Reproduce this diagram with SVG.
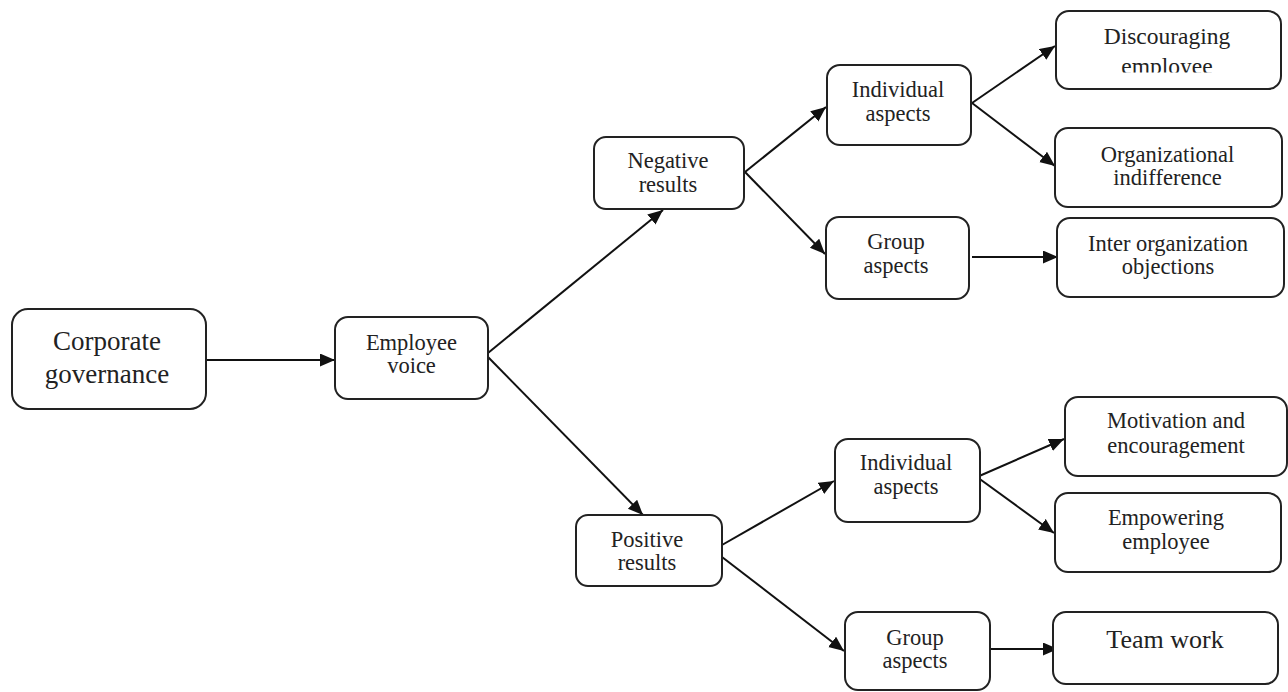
<svg xmlns="http://www.w3.org/2000/svg" width="1288" height="692" viewBox="0 0 1288 692">
<style>
.box{fill:#fff;stroke:#222;stroke-width:2}
.t{font-family:"Liberation Serif","Times New Roman",serif;font-size:22.5px;fill:#222;text-anchor:middle}
.big{font-size:27px}
.tw{font-size:26px}
.c{stroke:#111;stroke-width:2;fill:none;marker-end:url(#ah)}
</style>
<defs>
<marker id="ah" markerUnits="userSpaceOnUse" markerWidth="16" markerHeight="14" refX="15" refY="6.5" orient="auto">
<path d="M0,0 L15,6.5 L0,13 z" fill="#111"/>
</marker>
<clipPath id="clipDisc"><rect x="1056" y="11" width="225" height="61.5"/></clipPath>
</defs>
<g id="connectors">
<line class="c" x1="206" y1="360" x2="335" y2="360"/>
<line class="c" x1="488" y1="353" x2="663" y2="210"/>
<line class="c" x1="488" y1="357" x2="643" y2="515"/>
<line class="c" x1="745" y1="172" x2="826" y2="107"/>
<line class="c" x1="745" y1="172" x2="825" y2="254"/>
<line class="c" x1="972" y1="103" x2="1055" y2="46"/>
<line class="c" x1="972" y1="103" x2="1055" y2="166"/>
<line class="c" x1="972" y1="257" x2="1058" y2="257"/>
<line class="c" x1="722" y1="545" x2="834" y2="481"/>
<line class="c" x1="722" y1="557" x2="844" y2="651"/>
<line class="c" x1="977" y1="477" x2="1064" y2="439"/>
<line class="c" x1="977" y1="477" x2="1054" y2="533"/>
<line class="c" x1="987" y1="649" x2="1058" y2="649"/>
</g>
<g id="corporate-governance">
<rect class="box" x="12" y="309" width="194" height="100" rx="16"/>
<text class="t big" x="107" y="350">Corporate</text>
<text class="t big" x="107" y="383">governance</text>
</g>
<g id="employee-voice">
<rect class="box" x="335" y="317" width="153" height="82" rx="13"/>
<text class="t" x="411.5" y="350">Employee</text>
<text class="t" x="411.5" y="373">voice</text>
</g>
<g id="negative-results">
<rect class="box" x="594" y="137" width="150" height="72" rx="12"/>
<text class="t" x="668" y="168">Negative</text>
<text class="t" x="668" y="192">results</text>
</g>
<g id="individual-aspects-neg">
<rect class="box" x="827" y="65" width="144" height="80" rx="13"/>
<text class="t" x="898" y="97">Individual</text>
<text class="t" x="898" y="121">aspects</text>
</g>
<g id="group-aspects-neg">
<rect class="box" x="826" y="217" width="143" height="82" rx="13"/>
<text class="t" x="896" y="249">Group</text>
<text class="t" x="896" y="273">aspects</text>
</g>
<g id="discouraging-employee">
<rect class="box" x="1056" y="11" width="225" height="78" rx="13"/>
<text class="t" x="1167" y="44" style="font-size:23.5px">Discouraging</text>
<text class="t" x="1167" y="74" style="font-size:23.5px" clip-path="url(#clipDisc)">employee</text>
</g>
<g id="organizational-indifference">
<rect class="box" x="1055" y="128" width="227" height="79" rx="13"/>
<text class="t" x="1167.5" y="162">Organizational</text>
<text class="t" x="1167.5" y="185">indifference</text>
</g>
<g id="inter-organization-objections">
<rect class="box" x="1057" y="218" width="227" height="79" rx="13"/>
<text class="t" x="1168" y="251">Inter organization</text>
<text class="t" x="1168" y="274">objections</text>
</g>
<g id="positive-results">
<rect class="box" x="576" y="515" width="146" height="71" rx="12"/>
<text class="t" x="647" y="547">Positive</text>
<text class="t" x="647" y="570">results</text>
</g>
<g id="individual-aspects-pos">
<rect class="box" x="835" y="439" width="145" height="83" rx="13"/>
<text class="t" x="906" y="470">Individual</text>
<text class="t" x="906" y="494">aspects</text>
</g>
<g id="group-aspects-pos">
<rect class="box" x="845" y="612" width="145" height="78" rx="13"/>
<text class="t" x="915" y="645">Group</text>
<text class="t" x="915" y="668">aspects</text>
</g>
<g id="motivation-encouragement">
<rect class="box" x="1065" y="397" width="222" height="79" rx="13"/>
<text class="t" x="1176" y="428">Motivation and</text>
<text class="t" x="1176" y="453">encouragement</text>
</g>
<g id="empowering-employee">
<rect class="box" x="1055" y="493" width="226" height="79" rx="13"/>
<text class="t" x="1166" y="525">Empowering</text>
<text class="t" x="1166" y="549">employee</text>
</g>
<g id="team-work">
<rect class="box" x="1053" y="612" width="225" height="72" rx="13"/>
<text class="t tw" x="1165" y="648">Team work</text>
</g>
</svg>
